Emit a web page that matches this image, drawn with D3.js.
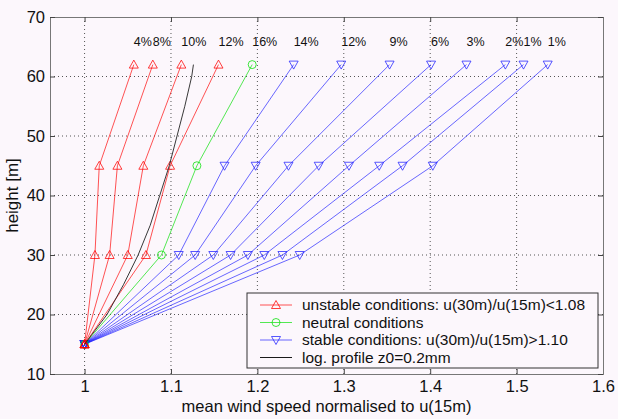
<!DOCTYPE html>
<html>
<head>
<meta charset="utf-8">
<script src="https://cdn.jsdelivr.net/npm/d3@7"></script>
<style>
  body { margin: 0; background: #fcf7fc; }
  svg { display: block; font-family: "Liberation Sans", Arial, sans-serif; }
</style>
</head>
<body>
<div id="chart"></div>
<script>
// measured heights of the mast
const heights = [15, 30, 45, 62];

// normalised mean wind speed at each height, one row per class
const unstable = [
  [1, 1.012, 1.017, 1.057],
  [1, 1.029, 1.038, 1.079],
  [1, 1.050, 1.068, 1.112],
  [1, 1.071, 1.099, 1.155]
];
const neutral = [1, 1.089, 1.130, 1.194];
const stable = [
  [1, 1.109, 1.162, 1.242],
  [1, 1.128, 1.198, 1.297],
  [1, 1.149, 1.236, 1.353],
  [1, 1.169, 1.271, 1.401],
  [1, 1.189, 1.306, 1.442],
  [1, 1.208, 1.341, 1.487],
  [1, 1.229, 1.368, 1.508],
  [1, 1.249, 1.403, 1.536]
];

// frequency of each class (labels above the profiles)
const unstablePct = ["4%", "8%", "10%", "12%"];
const neutralPct = "16%";
const stablePct = ["14%", "12%", "9%", "6%", "3%", "2%", "1%", "1%"];

// log profile
const logHeights = [15, 20, 25, 30, 35, 40, 45, 50, 55, 60, 62];
const logU = [1, 1.026, 1.045, 1.062, 1.076, 1.087, 1.098, 1.107, 1.116, 1.124, 1.126];

const xTicks = [1, 1.1, 1.2, 1.3, 1.4, 1.5, 1.6];
const yTicks = [10, 20, 30, 40, 50, 60, 70];

const legendItems = [
  {label: "unstable conditions: u(30m)/u(15m)<1.08", color: "#ff0000", marker: "up"},
  {label: "neutral conditions", color: "#00e000", marker: "circle"},
  {label: "stable conditions: u(30m)/u(15m)>1.10", color: "#2020ff", marker: "down"},
  {label: "log. profile z0=0.2mm", color: "#000000", marker: null}
];

// set the dimensions and margins of the graph
const W = 618, H = 419;
const margin = {top: 17, right: 15, bottom: 45, left: 50},
      width = W - margin.left - margin.right,
      height = H - margin.top - margin.bottom;

const svg = d3.select("#chart")
              .append("svg")
              .attr("width", W)
              .attr("height", H)
              .append("g")
              .attr("transform", `translate(${margin.left},${margin.top})`);

const x = d3.scaleLinear().domain([0.96, 1.6]).range([0, width]);
const y = d3.scaleLinear().domain([10, 70]).range([height, 0]);

// dotted grid
svg.append("g")
   .selectAll("line")
   .data(xTicks.filter(d => d < 1.6))
   .join("line")
   .attr("x1", d => x(d)).attr("x2", d => x(d))
   .attr("y1", 0).attr("y2", height)
   .attr("stroke", "#555")
   .attr("stroke-dasharray", "1,3");
svg.append("g")
   .selectAll("line")
   .data(yTicks.filter(d => d > 10 && d < 70))
   .join("line")
   .attr("x1", 0).attr("x2", width)
   .attr("y1", d => y(d)).attr("y2", d => y(d))
   .attr("stroke", "#555")
   .attr("stroke-dasharray", "1,3");

// axes, ticks pointing inward
const fmtX = d => d === 1 ? "1" : d.toFixed(1);
svg.append("g")
   .attr("transform", `translate(0,${height})`)
   .call(d3.axisBottom(x).tickValues(xTicks).tickFormat(fmtX).tickSize(-5).tickPadding(6));
svg.append("g")
   .call(d3.axisTop(x).tickValues(xTicks).tickFormat("").tickSize(-5));
svg.append("g")
   .call(d3.axisLeft(y).tickValues(yTicks).tickSize(-5).tickPadding(5));
svg.append("g")
   .attr("transform", `translate(${width},0)`)
   .call(d3.axisRight(y).tickValues(yTicks).tickFormat("").tickSize(-5));

svg.selectAll(".domain").attr("stroke", "#777");
svg.selectAll(".tick line").attr("stroke", "#444");
svg.selectAll(".tick text").attr("fill", "#111").style("font-size", "16.5px");

// axis labels
svg.append("text")
   .attr("x", width / 2)
   .attr("y", height + 38)
   .attr("text-anchor", "middle")
   .style("font-size", "16.5px")
   .attr("fill", "#111")
   .text("mean wind speed normalised to u(15m)");
svg.append("text")
   .attr("transform", `translate(${-32},${height / 2}) rotate(-90)`)
   .attr("text-anchor", "middle")
   .style("font-size", "17px")
   .attr("fill", "#111")
   .text("height [m]");

// markers
function marker(g, type, color) {
  if (type === "circle") {
    g.append("circle").attr("r", 4).attr("fill", "none").attr("stroke", color);
  } else if (type === "up") {
    g.append("path").attr("d", "M0,-4.5L4.5,3.5L-4.5,3.5Z").attr("fill", "none").attr("stroke", color);
  } else if (type === "down") {
    g.append("path").attr("d", "M0,4.5L4.5,-3.5L-4.5,-3.5Z").attr("fill", "none").attr("stroke", color);
  }
}

const line = d3.line().x(d => x(d[0])).y(d => y(d[1]));

function drawProfile(vals, color, type, pct) {
  const pts = vals.map((v, i) => [v, heights[i]]);
  svg.append("path")
     .attr("d", line(pts))
     .attr("fill", "none")
     .attr("stroke", color)
     .attr("stroke-width", 0.9)
     .attr("stroke-opacity", 0.75);
  pts.forEach(p => {
    const g = svg.append("g")
                 .attr("transform", `translate(${x(p[0])},${y(p[1])})`)
                 .attr("stroke-opacity", 0.75);
    marker(g, type, color);
  });
  svg.append("text")
     .attr("x", x(vals[vals.length - 1]))
     .attr("y", y(65.8))
     .attr("dy", "0.35em")
     .style("font-size", "12.5px")
     .attr("fill", "#111")
     .text(pct);
}

stable.forEach((v, i) => drawProfile(v, "#2020ff", "down", stablePct[i]));
drawProfile(neutral, "#00e000", "circle", neutralPct);
unstable.forEach((v, i) => drawProfile(v, "#ff0000", "up", unstablePct[i]));

// log profile
svg.append("path")
   .attr("d", line(logU.map((v, i) => [v, logHeights[i]])))
   .attr("fill", "none")
   .attr("stroke", "#222")
   .attr("stroke-width", 0.9);

// legend
const lg = svg.append("g").attr("transform", `translate(${247 - margin.left},${293 - margin.top})`);
lg.append("rect")
  .attr("width", 351)
  .attr("height", 75)
  .attr("fill", "#fcf7fc")
  .attr("stroke", "#333");
legendItems.forEach((d, i) => {
  const row = lg.append("g").attr("transform", `translate(0,${12 + i * 17.5})`);
  row.append("line")
     .attr("x1", 13).attr("x2", 45)
     .attr("stroke", d.color)
     .attr("stroke-width", 0.9)
     .attr("stroke-opacity", d.marker ? 0.75 : 1);
  if (d.marker) {
    const g = row.append("g").attr("transform", "translate(29,0)").attr("stroke-opacity", 0.75);
    marker(g, d.marker, d.color);
  }
  row.append("text")
     .attr("x", 55)
     .attr("dy", "0.35em")
     .style("font-size", "15.5px")
     .attr("fill", "#111")
     .text(d.label);
});
</script>
</body>
</html>
